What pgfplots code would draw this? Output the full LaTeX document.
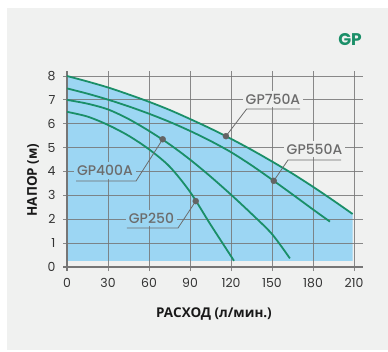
\documentclass[border=0pt]{standalone}
\usepackage{fontspec}
\setmainfont{Poppins}
\newfontfamily\medfont{Poppins}[UprightFont={* Medium}]
\newfontfamily\cyrfont{Open Sans}
\usepackage{pgfplots}
\pgfplotsset{compat=1.18}

\definecolor{panel}{RGB}{240,241,240}
\definecolor{water}{RGB}{156,214,243}
\definecolor{curve}{RGB}{26,143,104}
\definecolor{gridc}{RGB}{118,118,118}
\definecolor{lbl}{RGB}{108,108,108}
\definecolor{mk}{RGB}{100,100,100}

\begin{document}
\begin{tikzpicture}[x=1bp,y=1bp]
\path[use as bounding box] (-67,-85) rectangle (321,267);
\fill[panel] (-60,-83) rectangle (321,259);
\begin{axis}[
  at={(0,0)}, anchor=south west,
  scale only axis, width=287bp, height=191bp,
  xmin=0, xmax=210, ymin=0, ymax=8,
  clip=false,
  axis line style={draw=none},
  major tick length=0pt,
  xtick={0,30,60,90,120,150,180,210},
  ytick={0,1,2,3,4,5,6,7,8},
  ticklabel style={font=\fontsize{12.5}{14}\selectfont, text=black!80},
  /pgf/number format/assume math mode=true,
  xticklabel style={yshift=-8bp},
  yticklabel style={xshift=-8bp},
]
% blue area under the top curve
\addplot[fill=water, draw=none, smooth] coordinates {
  (0,8) (15,7.77) (30,7.52) (45,7.23) (60,6.92) (75,6.58) (90,6.20) (105,5.80)
  (120,5.37) (135,4.91) (150,4.42) (165,3.91) (180,3.36) (195,2.78) (209,2.22)
} \closedcycle;
\fill[panel] (axis cs:-1,0) rectangle (axis cs:212,0.25);

% grid
\pgfplotsinvokeforeach{0,30,60,90,120,150,180,210}{
  \draw[gridc, line width=0.9bp, opacity=0.85] (axis cs:#1,-0.17) -- (axis cs:#1,8.21);
}
\pgfplotsinvokeforeach{1,2,3,4,5,6,7,8}{
  \draw[gridc, line width=0.9bp, opacity=0.85] (axis cs:-2.9,#1) -- (axis cs:216.6,#1);
}
\draw[gridc, line width=1.4bp] (axis cs:-2.9,0) -- (axis cs:216.6,0);
\draw[gridc, line width=1.4bp] (axis cs:0,-0.17) -- (axis cs:0,8.21);

% labels
\node[fill=panel, text=lbl, inner sep=3bp, font=\medfont\fontsize{14}{16}\selectfont] at (axis cs:150.7,7.04) {GP750A};
\node[fill=panel, text=lbl, inner sep=3bp, font=\medfont\fontsize{14}{16}\selectfont] at (axis cs:181.1,4.94) {GP550A};
\node[fill=water, text=lbl, inner sep=3bp, font=\medfont\fontsize{14}{16}\selectfont] at (axis cs:27.8,4.04) {GP400A};
\node[fill=water, text=lbl, inner sep=3bp, font=\medfont\fontsize{14}{16}\selectfont] at (axis cs:61.8,2.05) {GP250};

% curves
\addplot[curve, line width=1.8bp, smooth] coordinates {
  (0,8) (15,7.77) (30,7.52) (45,7.23) (60,6.92) (75,6.58) (90,6.20) (105,5.80)
  (120,5.37) (135,4.91) (150,4.42) (165,3.91) (180,3.36) (195,2.78) (209,2.22)
};
\addplot[curve, line width=1.8bp, smooth] coordinates {
  (0,7.48) (15,7.26) (30,7.01) (45,6.73) (60,6.42) (75,6.08) (90,5.70) (105,5.28)
  (120,4.81) (135,4.26) (150,3.66) (165,3.04) (180,2.41) (192.4,1.90)
};
\addplot[curve, line width=1.8bp, smooth] coordinates {
  (0,7.0) (15,6.84) (30,6.60) (45,6.20) (60,5.70) (75,5.14) (90,4.50) (105,3.79)
  (120,3.03) (135,2.23) (150,1.38) (163.1,0.36)
};
\addplot[curve, line width=1.8bp, smooth] coordinates {
  (0,6.5) (15,6.30) (30,5.95) (45,5.50) (60,4.93) (75,4.21) (90,3.15) (105,1.78)
  (122.2,0.26)
};

% leader lines
\draw[lbl, line width=0.8bp] (axis cs:116.3,5.48) -- (axis cs:131.5,6.62) -- (axis cs:170.5,6.62);
\draw[lbl, line width=0.8bp] (axis cs:151.3,3.61) -- (axis cs:161.7,4.48) -- (axis cs:200.5,4.48);
\draw[lbl, line width=0.8bp] (axis cs:70,5.35) -- (axis cs:50.5,3.60) -- (axis cs:6.6,3.60);
\draw[lbl, line width=0.8bp] (axis cs:94.2,2.76) -- (axis cs:81.2,1.63) -- (axis cs:43.9,1.63);

% markers
\addplot[only marks, mark=*, mark size=3bp, mk] coordinates {
  (116.3,5.48) (151.3,3.61) (70,5.35) (94.2,2.76)
};
\end{axis}
\node[font=\cyrfont\fontsize{13.5}{15}\selectfont\bfseries, text=black!90] at (147,-47) {РАСХОД (л/мин.)};
\node[font=\cyrfont\fontsize{13.5}{15}\selectfont\bfseries, text=black!90, rotate=90] at (-34,87) {НАПОР (м)};
\node[font=\fontsize{17}{19}\selectfont\bfseries, text=curve] at (283,227) {GP};
\end{tikzpicture}
\end{document}
